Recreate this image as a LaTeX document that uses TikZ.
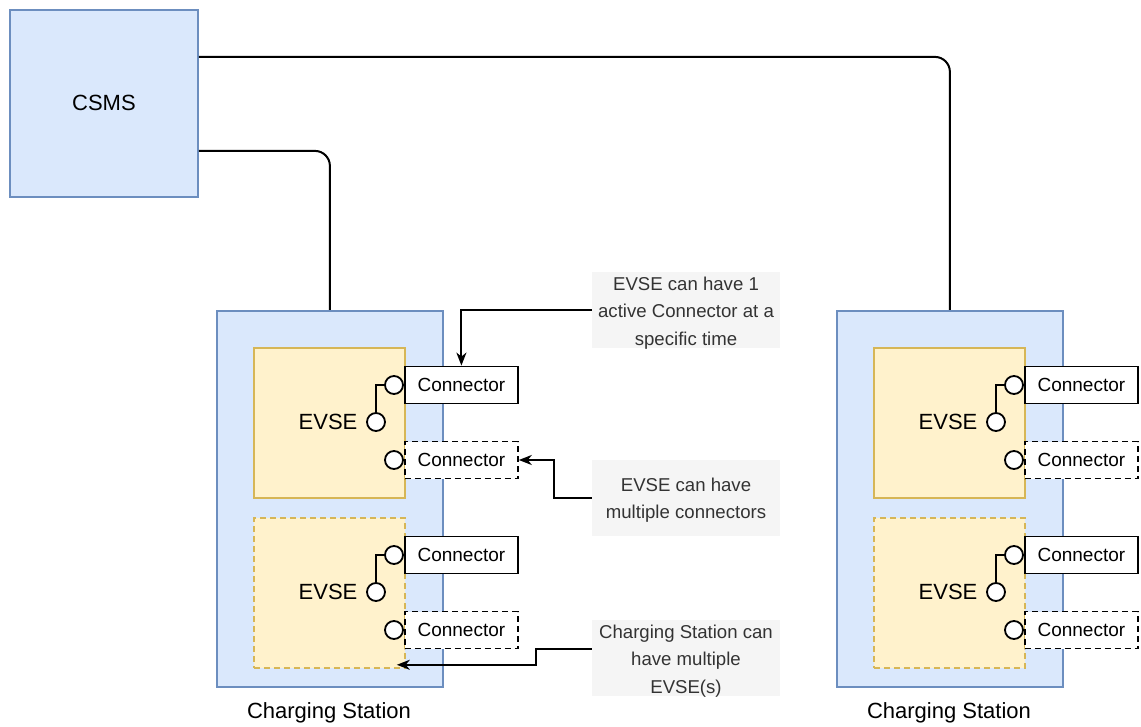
\documentclass[tikz,border=0pt]{standalone}
\usepackage{fontspec}
\setmainfont{Liberation Sans}
\usetikzlibrary{arrows.meta}
\definecolor{bfill}{HTML}{DAE8FC}
\definecolor{bdraw}{HTML}{6C8EBF}
\definecolor{yfill}{HTML}{FFF2CC}
\definecolor{ydraw}{HTML}{D6B656}
\definecolor{nfill}{HTML}{F5F5F5}
\definecolor{ntext}{HTML}{333333}
\tikzset{
  bluebox/.style={draw=bdraw,fill=bfill,line width=1.8pt,inner sep=0pt,anchor=north west},
  evsebox/.style={draw=ydraw,fill=yfill,line width=1.8pt,inner sep=0pt,anchor=north west,minimum width=151pt,minimum height=150pt},
  dashy/.style={dash pattern=on 6pt off 4pt},
  conbox/.style={draw=black,fill=white,line width=1.8pt,inner sep=0pt,minimum width=113pt,minimum height=37pt,font=\fontsize{19}{22}\selectfont},
  port/.style={circle,draw=black,fill=white,line width=1.8pt,inner sep=0pt,minimum size=18pt},
  evtext/.style={font=\fontsize{22}{26}\selectfont,inner sep=0pt},
  lbl/.style={font=\fontsize{22}{26}\selectfont,inner sep=0pt},
  notebox/.style={fill=nfill,inner sep=0pt,minimum width=188pt,minimum height=76pt},
  notetext/.style={text=ntext,inner sep=0pt,align=center,font=\fontsize{18.6}{27.5}\selectfont},
  wire/.style={draw=black,line width=2pt},
  arr/.style={wire,-{Stealth[length=13pt,width=10pt,inset=4pt]}},
}
\newcommand\evseunit[3]{%
  \node[evsebox,#3] (#1) at (253,#2) {};
  \node[evtext] (#1t) at (328,{#2+75}) {EVSE};
  \node[port] (#1p) at (376,{#2+75}) {};
  \node[conbox,anchor=west] (#1c1) at (404,{#2+38}) {Connector};
  \node[conbox,dashy,anchor=west] (#1c2) at (404,{#2+113}) {Connector};
  \node[port] (#1q1) at (394,{#2+38}) {};
  \node[port] (#1q2) at (394,{#2+113}) {};
  \draw[wire] (#1p.north) |- (#1q1.west);
}
\newcommand\stationunit{%
  \node[bluebox,minimum width=226pt,minimum height=376pt] (S) at (216,310) {};
  \node[lbl] (Slbl) at (329,713) {Charging Station};
  \evseunit{E1}{347}{}
  \evseunit{E2}{517}{dashy}
}
\begin{document}
\begin{tikzpicture}[x=1pt,y=-1pt]
\useasboundingbox (0,0) rectangle (1141,727);
\node[bluebox,minimum width=188pt,minimum height=187pt] (csms) at (9,9) {};
\node[lbl] (csmst) at (csms.center) {CSMS};
\begin{scope}[name prefix=L-]
  \stationunit
\end{scope}
\begin{scope}[shift={(620,0)},name prefix=R-]
  \stationunit
\end{scope}
\node[notebox] (n1) at (686,310) {};
\node[notetext] (n1t) at (686,313) {EVSE can have 1\\active Connector at a\\specific time};
\node[notebox] (n2) at (686,498) {};
\node[notetext] (n2t) at (686,500) {EVSE can have\\multiple connectors};
\node[notebox] (n3) at (686,658) {};
\node[notetext] (n3t) at (686,661) {Charging Station can\\have multiple\\EVSE(s)};
\draw[wire,rounded corners=15pt] ([yshift=-47.5pt]csms.east) -| (L-S.north);
\draw[wire,rounded corners=15pt] ([yshift=46.5pt]csms.east) -| (R-S.north);
\draw[arr] (n1.west) -| (L-E1c1.north);
\draw[arr] (n2.west) -- ++(-38,0) |- (L-E1c2.east);
\draw[arr] ([yshift=9pt]n3.west) -- ++(-56,0) |- ([xshift=-9pt,yshift=4pt]L-E2.south east);
\end{tikzpicture}
\end{document}
